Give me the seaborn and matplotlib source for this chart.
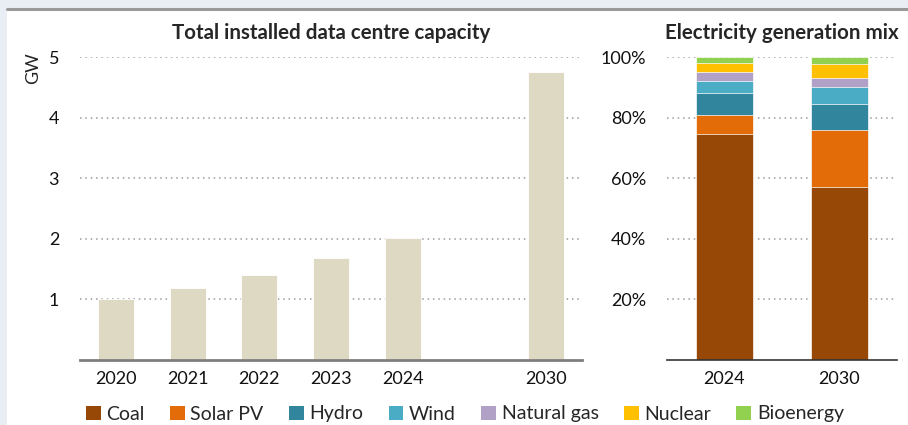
import matplotlib
matplotlib.use("Agg")
import matplotlib.pyplot as plt
import matplotlib.patches as mpatches
import seaborn as sns
import pandas as pd
import numpy as np

# --- data ---
years_cap = ["2020", "2021", "2022", "2023", "2024", "2030"]
capacity_gw = [1.00, 1.18, 1.40, 1.69, 2.02, 4.76]

years_mix = ["2024", "2030"]
sources = ["Coal", "Solar PV", "Hydro", "Wind", "Natural gas", "Nuclear", "Bioenergy"]
coal = [74.5, 57.1]
solar_pv = [6.3, 18.7]
hydro = [7.4, 8.8]
wind = [3.9, 5.6]
natural_gas = [3.1, 3.0]
nuclear = [2.7, 4.6]
bioenergy = [2.1, 2.2]

colours = ["#974706", "#E36C09", "#31859C", "#4BACC6", "#B2A1C7", "#FFC000", "#92D050"]
BAR_COL = "#DDD9C3"
GRID_COL = "#9a9a9a"

sns.set_style("white")
plt.rcParams["font.family"] = ["Lato", "DejaVu Sans"]
plt.rcParams["font.size"] = 13

fig = plt.figure(figsize=(9.08, 4.25), dpi=100)
fig.patch.set_facecolor("#E8EEF3")
# white panel with grey top rule
fig.patches.append(mpatches.Rectangle((7 / 908, 0), 1, (425 - 9) / 425, transform=fig.transFigure,
                                      facecolor="white", edgecolor="none", zorder=-10))
fig.lines.append(plt.Line2D([7 / 908, 1], [(425 - 9) / 425] * 2, transform=fig.transFigure,
                            color="#999999", lw=2.2, zorder=-5))


def style_axis(ax):
    ax.patch.set_alpha(0)
    for s in ["top", "right", "left"]:
        ax.spines[s].set_visible(False)
    ax.yaxis.grid(True, linestyle=(0, (1, 2.5)), color=GRID_COL, lw=1.1)
    ax.set_axisbelow(True)
    ax.tick_params(axis="both", length=0, labelsize=13, colors="#111111")
    ax.tick_params(axis="x", pad=8)
    ax.set_xlabel("")
    ax.set_ylabel("")


# --- left: capacity ---
ax1 = fig.add_axes([80 / 908, 65 / 425, 502 / 908, 303 / 425])
df_cap = pd.DataFrame({"year": years_cap, "gw": capacity_gw})
order = ["2020", "2021", "2022", "2023", "2024", " ", "2030"]
sns.barplot(data=df_cap, x="year", y="gw", order=order, color=BAR_COL, width=0.5,
            saturation=1, edgecolor="white", linewidth=0.6, ax=ax1)
ax1.set_xlim(-0.5, 6.5)
ax1.set_ylim(0, 5)
ax1.set_yticks([1, 2, 3, 4, 5])
style_axis(ax1)
ax1.spines["bottom"].set_color("#7f7f7f")
ax1.spines["bottom"].set_linewidth(2)
ax1.tick_params(axis="y", pad=15)
ax1.set_title("Total installed data centre capacity", fontsize=14.8, fontweight="bold", pad=13)
fig.text(33 / 908, 1 - 68 / 425, "GW", rotation=90, ha="center", va="center", fontsize=13)

# --- right: generation mix (stacked, drawn from the top layer down) ---
ax2 = fig.add_axes([667 / 908, 65 / 425, 230 / 908, 303 / 425])
layers = [coal, solar_pv, hydro, wind, natural_gas, nuclear, bioenergy]
cum = np.cumsum(np.array(layers), axis=0) / 100
for i in range(len(layers) - 1, -1, -1):
    sns.barplot(x=years_mix, y=cum[i], color=colours[i], width=0.5, saturation=1,
                edgecolor="white", linewidth=0.5, ax=ax2)
ax2.set_xlim(-0.5, 1.5)
ax2.set_ylim(0, 1)
ax2.set_yticks([0.2, 0.4, 0.6, 0.8, 1.0])
ax2.set_yticklabels(["20%", "40%", "60%", "80%", "100%"])
style_axis(ax2)
ax2.spines["bottom"].set_color("#333333")
ax2.spines["bottom"].set_linewidth(1.2)
ax2.tick_params(axis="y", pad=15)
ax2.set_title("Electricity generation mix", fontsize=14.8, fontweight="bold", pad=13)

# --- legend ---
handles = [mpatches.Patch(facecolor=c, edgecolor="none", label=s) for s, c in zip(sources, colours)]
fig.legend(handles=handles, loc="center left", bbox_to_anchor=(86 / 908, 1 - 414 / 425), ncol=7,
           frameon=False, fontsize=14, handlelength=0.75, handleheight=0.75,
           handletextpad=0.3, columnspacing=1.3, borderaxespad=0, borderpad=0)

fig.savefig("out.png", dpi=100, facecolor=fig.get_facecolor())
